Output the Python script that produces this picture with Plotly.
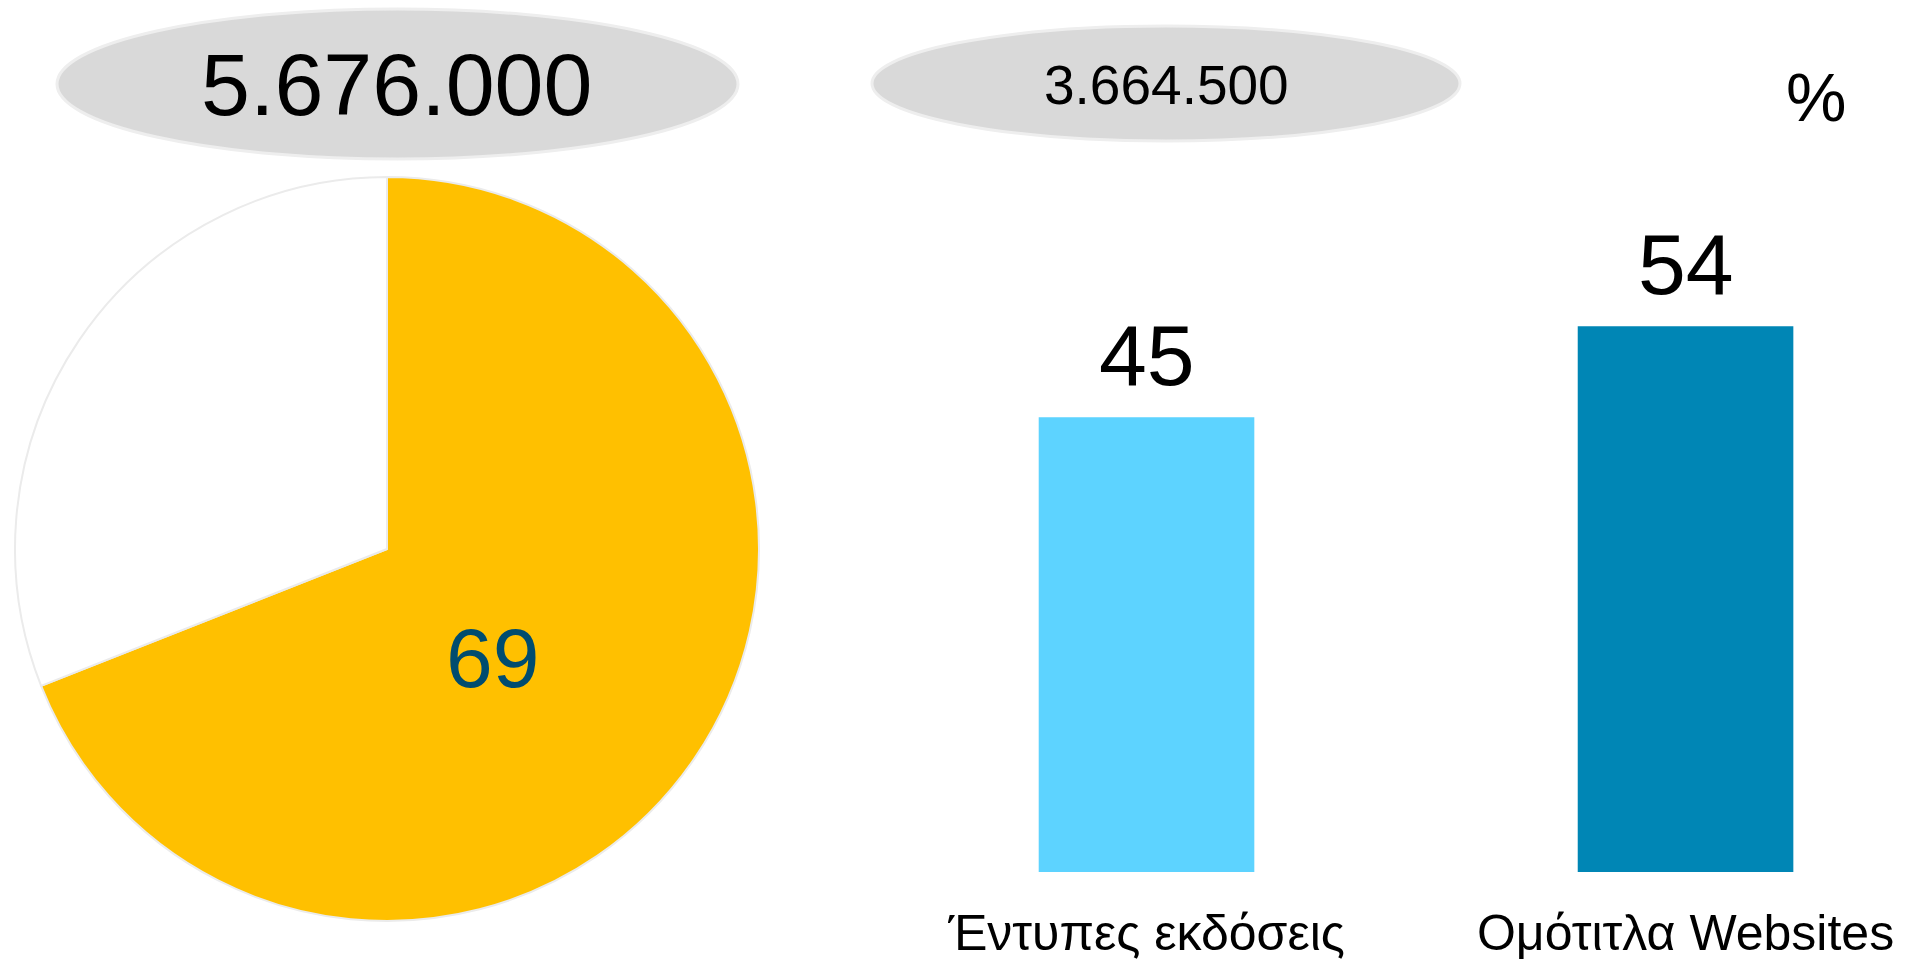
import plotly.graph_objects as go

# Audience totals shown in the grey ovals
total_reach = "5.676.000"
online_reach = "3.664.500"

# Pie: share of the total reach
pie_labels = ["Κάλυψη", "Υπόλοιπο"]
pie_values = [69, 31]
pie_colors = ["#FFC000", "#FFFFFF"]

# Bars: percentage by medium
bar_categories = ["Έντυπες εκδόσεις", "Ομότιτλα Websites"]
bar_values = [45, 54]
bar_colors = ["#5DD3FF", "#0086B5"]

W, H = 1906, 963
FONT = "Liberation Sans, Arial, sans-serif"

fig = go.Figure()

fig.add_trace(go.Pie(
    labels=pie_labels,
    values=pie_values,
    sort=False,
    direction="clockwise",
    rotation=0,
    marker=dict(colors=pie_colors, line=dict(color="#EBEBEB", width=2)),
    textinfo="none",
    hoverinfo="label+value",
    showlegend=False,
    domain=dict(x=[15 / W, 759 / W], y=[1 - 921 / H, 1 - 177 / H]),
))

fig.add_trace(go.Bar(
    x=bar_categories,
    y=bar_values,
    width=0.4,
    marker=dict(color=bar_colors, line=dict(width=0)),
    showlegend=False,
    xaxis="x",
    yaxis="y",
))

annotations = []

# value labels above each bar
for cat, val in zip(bar_categories, bar_values):
    annotations.append(dict(
        x=cat, y=val, xref="x", yref="y",
        text=str(val), showarrow=False,
        yanchor="bottom", yshift=12,
        font=dict(family=FONT, size=86, color="#000000"),
    ))

# value label inside the yellow slice
annotations.append(dict(
    x=492 / W, y=1 - 658 / H, xref="paper", yref="paper",
    text=str(pie_values[0]), showarrow=False,
    xanchor="center", yanchor="middle",
    font=dict(family=FONT, size=84, color="#004C6F"),
))

# oval headline numbers and the unit sign
annotations.append(dict(
    x=397 / W, y=1 - 84 / H, xref="paper", yref="paper",
    text=total_reach, showarrow=False, xanchor="center", yanchor="middle",
    font=dict(family=FONT, size=88, color="#000000"),
))
annotations.append(dict(
    x=1166 / W, y=1 - 85 / H, xref="paper", yref="paper",
    text=online_reach, showarrow=False, xanchor="center", yanchor="middle",
    font=dict(family=FONT, size=55, color="#000000"),
))
annotations.append(dict(
    x=1816 / W, y=1 - 97 / H, xref="paper", yref="paper",
    text="%", showarrow=False, xanchor="center", yanchor="middle",
    font=dict(family=FONT, size=68, color="#000000"),
))

shapes = [
    dict(type="circle", xref="paper", yref="paper",
         x0=57 / W, x1=738 / W, y0=1 - 159 / H, y1=1 - 9 / H,
         fillcolor="#D9D9D9", line=dict(color="#EEEEEE", width=3), layer="below"),
    dict(type="circle", xref="paper", yref="paper",
         x0=872 / W, x1=1460 / W, y0=1 - 141 / H, y1=1 - 26 / H,
         fillcolor="#D9D9D9", line=dict(color="#EEEEEE", width=3), layer="below"),
]

fig.update_layout(
    width=W, height=H,
    margin=dict(l=0, r=0, t=0, b=0, autoexpand=False),
    paper_bgcolor="#FFFFFF",
    plot_bgcolor="rgba(0,0,0,0)",
    annotations=annotations,
    shapes=shapes,
    xaxis=dict(
        domain=[877 / W, 1], range=[-0.5, 1.409],
        showgrid=False, zeroline=False, showline=False, ticks="",
        tickangle=0, automargin=False,
        tickfont=dict(family=FONT, size=50, color="#000000"),
        ticklabelstandoff=27,
        fixedrange=True,
    ),
    yaxis=dict(
        domain=[1 - 872 / H, 1], range=[0, 86.3],
        showgrid=False, zeroline=False, showline=False, showticklabels=False,
        automargin=False, fixedrange=True,
    ),
)

fig.write_html("out.html")
